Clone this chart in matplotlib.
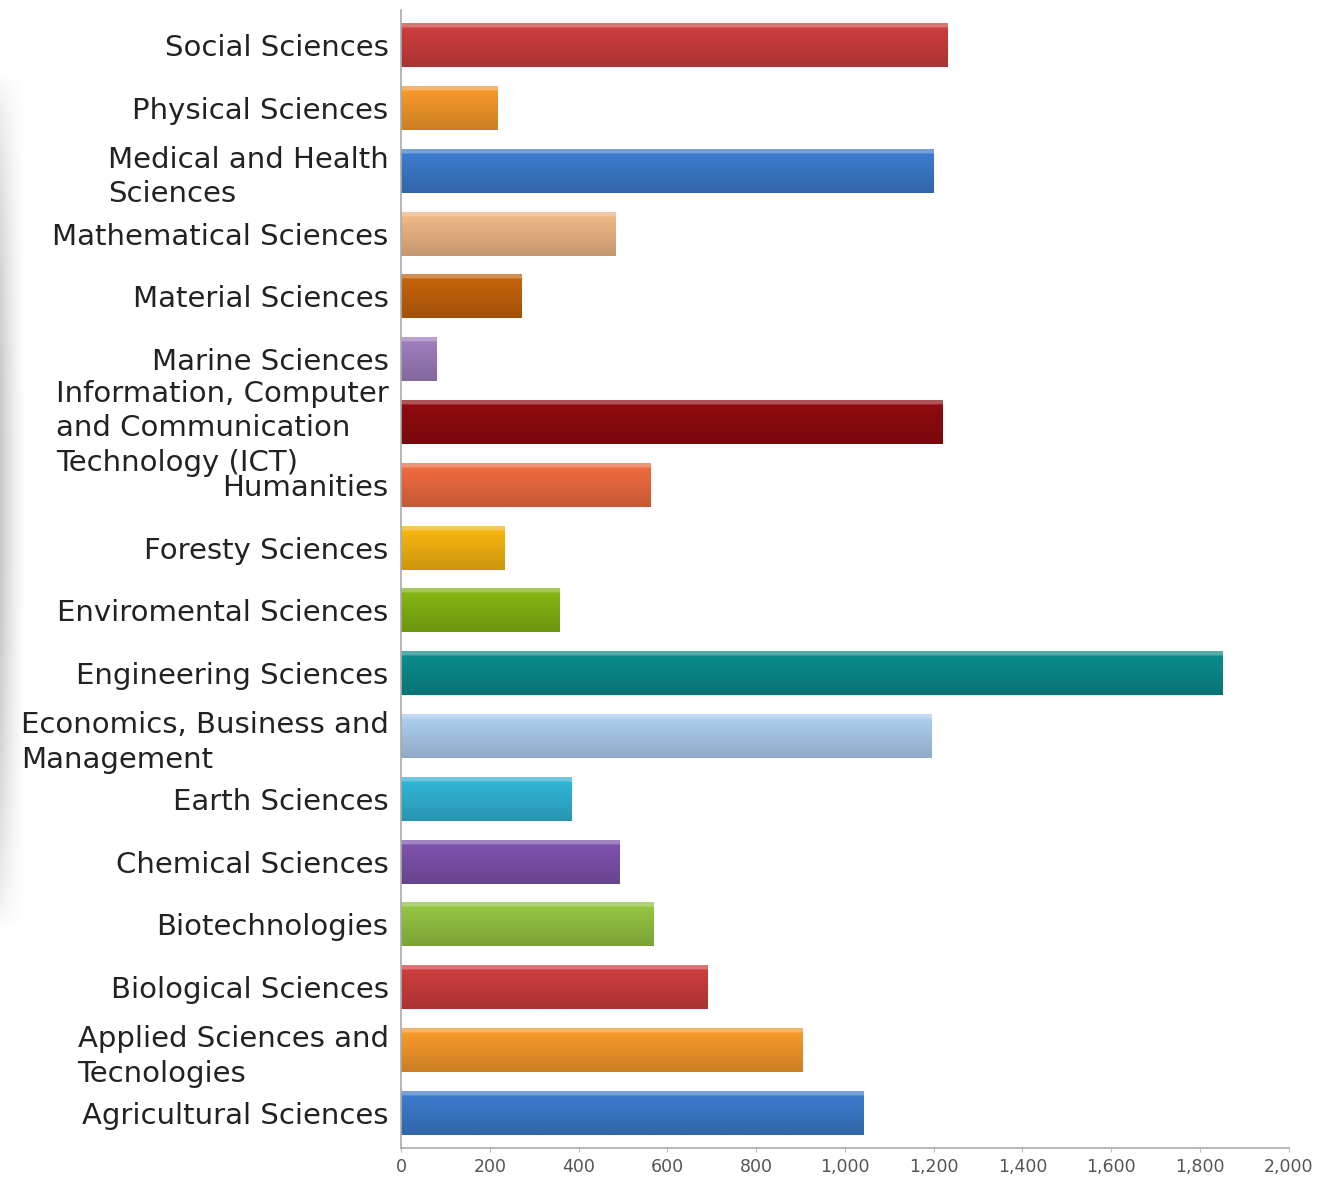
import numpy as np
import matplotlib.pyplot as plt
from matplotlib.colors import to_rgb

categories = [
    "Social Sciences", "Physical Sciences", "Medical and Health\nSciences",
    "Mathematical Sciences", "Material Sciences", "Marine Sciences",
    "Information, Computer\nand Communication\nTechnology (ICT)",
    "Humanities", "Foresty Sciences", "Enviromental Sciences",
    "Engineering Sciences", "Economics, Business and\nManagement",
    "Earth Sciences", "Chemical Sciences", "Biotechnologies",
    "Biological Sciences", "Applied Sciences and\nTecnologies",
    "Agricultural Sciences",
]
values = [1232, 218, 1200, 484, 272, 81, 1221, 561, 234, 356,
          1851, 1196, 385, 493, 568, 691, 905, 1043]
colors = ["#c83c3c", "#f0952a", "#3a78c8", "#e8b282", "#c0600a", "#9a7ab8",
          "#8c0a0e", "#e8683e", "#f0b010", "#80b012", "#0a8888", "#a8c8e8",
          "#30b0d0", "#7a50a8", "#90c040", "#c83c3c", "#f0952a", "#3a78c8"]

fig = plt.figure(figsize=(13.21, 11.78), dpi=100)

# soft grey shadow along the left edge of the screenshot
sh = fig.add_axes([0, 0.21, 0.02, 0.73])
gx = np.linspace(0, 1, 40)
gy = np.sin(np.linspace(0, np.pi, 100)) ** 0.6
shadow = 1 - 0.22 * np.outer(gy, (1 - gx) ** 1.5)
sh.imshow(shadow, cmap="gray", vmin=0, vmax=1,
          aspect="auto", interpolation="bilinear")
sh.axis("off")

ax = fig.add_axes([0.3036, 0.0255, 0.672, 0.966])

h = 0.7
y = np.arange(len(categories))
for yi, v, c in zip(y, values, colors):
    base = np.array(to_rgb(c))
    t = np.linspace(0, 1, 40)
    shade = 1.05 - 0.2 * t
    grad = np.clip(base[None, :] * shade[:, None], 0, 1)
    grad[t < 0.1] = np.clip(base + (1 - base) * 0.3, 0, 1)
    ax.imshow(grad[:, None, :], extent=[0, v, yi + h / 2, yi - h / 2],
              aspect='auto', interpolation='bilinear', zorder=2)

ax.set_xlim(0, 2000)
ax.set_ylim(len(categories) - 0.44, -0.56)
ax.set_yticks(y)
ax.set_yticklabels(categories, fontsize=21, color="#222222",
                   multialignment='left', linespacing=1.3)
ax.set_xticks(np.arange(0, 2001, 200))
ax.set_xticklabels([f"{v:,}" for v in range(0, 2001, 200)],
                   fontsize=12.5, color="#555555")
ax.tick_params(axis='y', length=0, pad=9)
ax.tick_params(axis='x', length=3, color="#bbbbbb", pad=4)
for s in ["top", "right"]:
    ax.spines[s].set_visible(False)
for s in ["left", "bottom"]:
    ax.spines[s].set_color("#aaaaaa")
    ax.spines[s].set_linewidth(1.2)

fig.savefig("out.png", dpi=100)
